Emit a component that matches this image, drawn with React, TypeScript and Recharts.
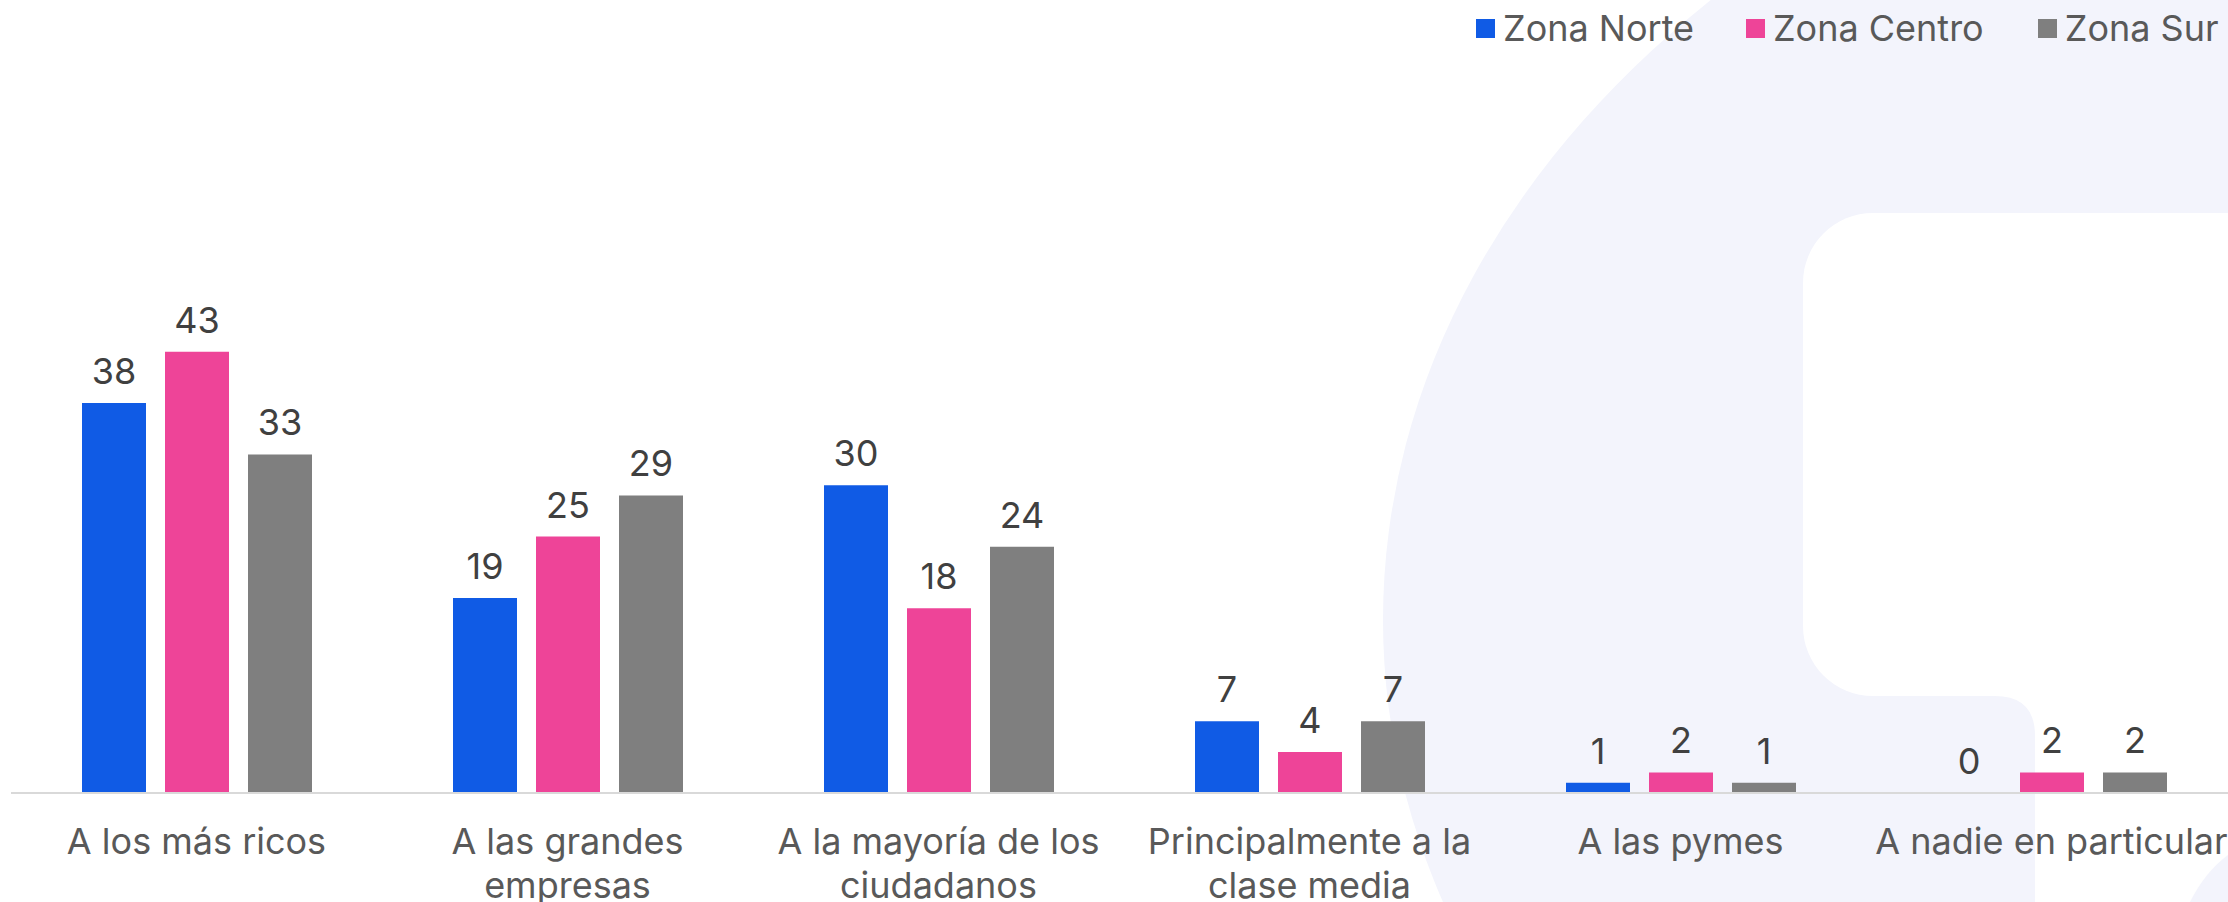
import React from "react";
import { Bar, BarChart, LabelList, Legend, XAxis, YAxis } from "recharts";

const categories = [
  "A los más ricos",
  "A las grandes empresas",
  "A la mayoría de los ciudadanos",
  "Principalmente a la clase media",
  "A las pymes",
  "A nadie en particular",
];
const tickLines = [
  ["A los más ricos"],
  ["A las grandes", "empresas"],
  ["A la mayoría de los", "ciudadanos"],
  ["Principalmente a la", "clase media"],
  ["A las pymes"],
  ["A nadie en particular"],
];
const zonaNorte = [38, 19, 30, 7, 1, 0];
const zonaCentro = [43, 25, 18, 4, 2, 2];
const zonaSur = [33, 29, 24, 7, 1, 2];
const seriesKeys = ["norte", "centro", "sur"];
const seriesNames = ["Zona Norte", "Zona Centro", "Zona Sur"];
const seriesColors = ["#105BE5", "#EE4498", "#7F7F7F"];

const FONT = "Inter, 'Noto Sans', sans-serif";
const LAVENDER = "#F3F4FC";

const data = categories.map((name, i) => ({
  name,
  norte: zonaNorte[i],
  centro: zonaCentro[i],
  sur: zonaSur[i],
}));

function CategoryTick(props: any) {
  const { x, y, payload } = props;
  const idx = categories.indexOf(payload.value);
  const lines = tickLines[idx] ?? [payload.value];
  return (
    <text
      x={x}
      y={y}
      textAnchor="middle"
      fill="#595959"
      fontSize={36}
      fontFamily={FONT}
    >
      {lines.map((line, i) => (
        <tspan key={i} x={x} dy={i === 0 ? 53 : 44}>
          {line}
        </tspan>
      ))}
    </text>
  );
}

// value label drawn by hand so that a 0 still shows above an empty bar
function ValueLabel(props: any) {
  const { x, y, width, value } = props;
  return (
    <text
      x={x + width / 2}
      y={y - 19}
      textAnchor="middle"
      fill="#404040"
      fontSize={36}
      fontFamily={FONT}
    >
      {value}
    </text>
  );
}

function ZoneLegend() {
  const widths = [272, 294, 240];
  return (
    <div
      style={{
        display: "flex",
        fontFamily: FONT,
        fontSize: 36,
        color: "#595959",
        lineHeight: "40px",
        whiteSpace: "nowrap",
      }}
    >
      {seriesNames.map((n, i) => (
        <div
          key={n}
          style={{ display: "flex", alignItems: "center", width: widths[i] }}
        >
          <span
            style={{
              display: "inline-block",
              width: 19,
              height: 19,
              background: seriesColors[i],
              marginRight: 8,
            }}
          />
          <span>{n}</span>
        </div>
      ))}
    </div>
  );
}

export default function App() {
  return (
    <div
      style={{
        position: "fixed",
        left: 0,
        top: 0,
        width: 2228,
        height: 902,
        overflow: "hidden",
        background: "#fff",
      }}
    >
      <svg
        width={2228}
        height={902}
        style={{ position: "absolute", left: 0, top: 0 }}
      >
        <ellipse cx={2571} cy={620} rx={1188} ry={899} fill={LAVENDER} />
        <rect x={1803} y={213} width={600} height={483} rx={70} fill="#fff" />
        <path
          d="M 1995 650 L 2400 650 L 2400 1000 L 2035 1000 L 2035 736 Q 2035 696 1995 696 Z"
          fill="#fff"
        />
        <path d="M 2190 902 Q 2205 872 2228 855 L 2228 902 Z" fill={LAVENDER} />
      </svg>
      <div style={{ position: "absolute", left: 0, top: 0 }}>
        <BarChart
          width={2240}
          height={902}
          data={data}
          margin={{ top: 280, right: 3, bottom: 0, left: 11 }}
          barSize={64}
          barGap={19}
        >
          <XAxis
            dataKey="name"
            interval={0}
            tickLine={false}
            tickSize={8}
            tickMargin={0}
            axisLine={{ stroke: "#D9D9D9", strokeWidth: 2 }}
            tick={<CategoryTick />}
            height={109}
          />
          <YAxis hide domain={[0, 50]} />
          <Legend
            align="center"
            verticalAlign="middle"
            content={<ZoneLegend />}
            wrapperStyle={{ top: 8, left: 1476, width: 800, height: 40 }}
          />
          {seriesKeys.map((k, i) => (
            <Bar
              key={k}
              dataKey={k}
              name={seriesNames[i]}
              fill={seriesColors[i]}
              minPointSize={0.01}
              isAnimationActive={false}
            >
              <LabelList dataKey={k} content={<ValueLabel />} />
            </Bar>
          ))}
        </BarChart>
      </div>
    </div>
  );
}
